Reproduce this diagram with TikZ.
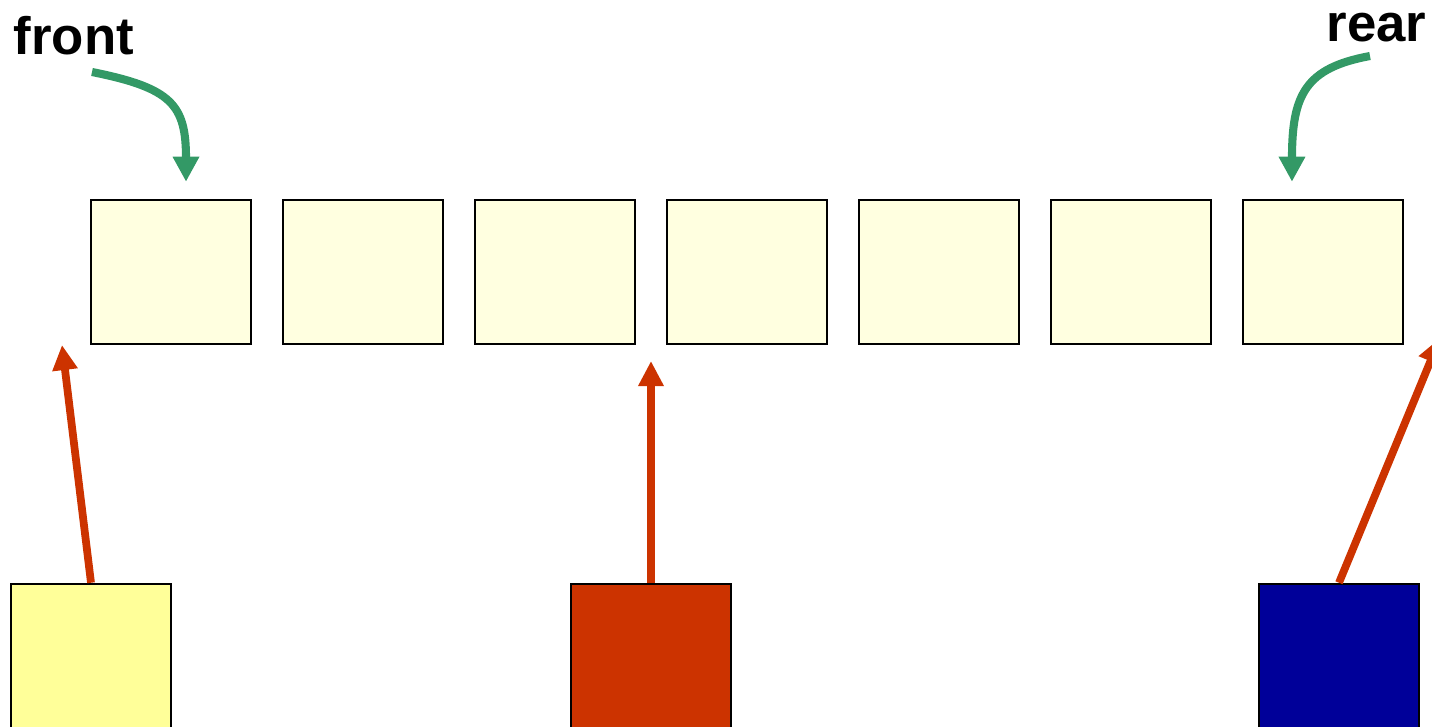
\documentclass[tikz,border=0pt]{standalone}
\usepackage{fontspec}
\setmainfont{Liberation Sans}
\usetikzlibrary{arrows.meta}
\definecolor{cellfill}{RGB}{255,255,224}
\definecolor{qyellow}{RGB}{255,255,153}
\definecolor{qred}{RGB}{204,51,0}
\definecolor{qblue}{RGB}{0,0,153}
\definecolor{qgreen}{RGB}{51,153,102}
\tikzset{
    cell/.style={draw,line width=0.7pt,fill=cellfill,minimum width=1.6cm,
        minimum height=1.44cm,inner sep=0pt},
    item/.style={cell,fill=#1},
    push/.style={line width=2.2pt,color=qred,
        -{Triangle[length=0.25cm,width=0.24cm]}},
    ptr/.style={line width=2.3pt,color=qgreen,
        -{Triangle[length=0.25cm,width=0.25cm]}},
    lbl/.style={font=\fontsize{15}{18}\selectfont\bfseries,inner sep=0pt}
}
\begin{document}
\begin{tikzpicture}[x=0.01cm,y=-0.01cm]
    \useasboundingbox (0,0) rectangle (1432,727);
    \foreach \i in {1,...,7}
        \node[cell] (c\i) at ({171+192*(\i-1)},272) {};
    \node[item=qyellow] (yel) at (91,656) {};
    \node[item=qred] (red) at (651,656) {};
    \node[item=qblue] (blue) at (1339,656) {};
    \coordinate (tipa) at (62,345);
    \coordinate (tipb) at (651,361);
    \coordinate (tipc) at (1440,338);
    \draw[push] (yel.north) -- (tipa);
    \draw[push] (red.north) -- (tipb);
    \draw[push] (blue.north) -- (tipc);
    \node[lbl,anchor=base west] (front) at (13,54) {front};
    \node[lbl,anchor=base east] (rear) at (1427,41) {rear};
    \coordinate (fs) at (92,72);
    \coordinate (rs) at (1370,56);
    \draw[ptr] (fs) .. controls (172,88) and (186,105)
        .. ([xshift=0.15cm,yshift=0.17cm]c1.north);
    \draw[ptr] (rs) .. controls (1305,68) and (1292,95)
        .. ([xshift=-0.31cm,yshift=0.17cm]c7.north);
\end{tikzpicture}
\end{document}
